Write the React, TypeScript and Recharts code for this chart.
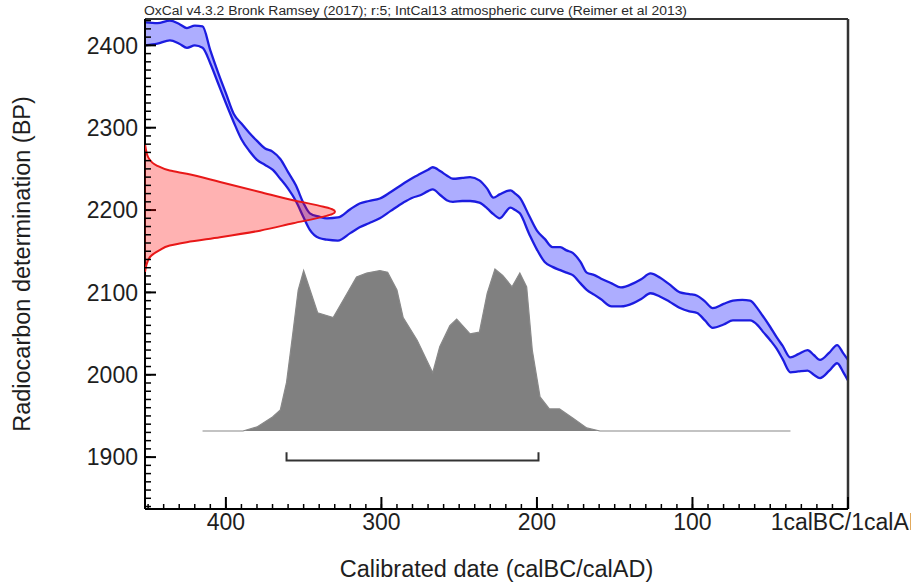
import React from 'react';
import { ComposedChart, Area, Line, XAxis, YAxis, ReferenceLine, Label } from 'recharts';

// ---------- data ----------
const TITLE = 'OxCal v4.3.2 Bronk Ramsey (2017); r:5; IntCal13 atmospheric curve (Reimer et al 2013)';

// IntCal13 calibration band (years BC, upper / lower radiocarbon age BP)
const curveYearsBC = [452, 444, 436, 430, 425, 420, 415, 410, 405, 400, 395, 390, 385, 380, 375, 370, 365, 360, 355, 350, 346, 340, 335, 328, 320, 314, 308, 301, 294, 286, 280, 275, 270, 267, 262, 258, 254, 248, 243, 237, 232, 228, 224, 217, 214, 211, 205, 200, 195, 190, 185, 181, 177, 172, 168, 163, 159, 152, 146, 138, 133, 127, 121, 115, 108, 102, 97, 92, 87, 80, 74, 68, 63, 58, 55, 50, 46, 42, 37, 32, 26, 22, 18, 12, 7, 3, 0];
const curveUpperBP = [2428, 2427, 2430, 2426, 2421, 2424, 2423, 2394, 2367, 2342, 2317, 2305, 2294, 2284, 2275, 2271, 2262, 2246, 2230, 2208, 2196, 2192, 2190, 2191, 2201, 2208, 2211, 2214, 2222, 2232, 2239, 2244, 2249, 2252, 2247, 2242, 2238, 2239, 2240, 2236, 2226, 2215, 2219, 2224, 2220, 2215, 2193, 2175, 2165, 2155, 2155, 2151, 2148, 2137, 2124, 2121, 2117, 2111, 2106, 2111, 2116, 2123, 2118, 2110, 2100, 2098, 2096, 2089, 2081, 2086, 2090, 2091, 2090, 2080, 2072, 2058, 2046, 2035, 2021, 2025, 2030, 2024, 2018, 2027, 2036, 2026, 2018];
const curveLowerBP = [2400, 2402, 2406, 2402, 2397, 2400, 2397, 2378, 2354, 2330, 2307, 2286, 2272, 2261, 2255, 2249, 2238, 2226, 2211, 2191, 2176, 2166, 2164, 2163, 2172, 2179, 2184, 2190, 2199, 2209, 2215, 2218, 2223, 2225, 2218, 2212, 2210, 2211, 2211, 2209, 2202, 2195, 2190, 2203, 2200, 2196, 2171, 2152, 2137, 2131, 2127, 2124, 2121, 2111, 2103, 2097, 2092, 2083, 2083, 2087, 2092, 2099, 2095, 2089, 2081, 2077, 2075, 2066, 2057, 2061, 2066, 2066, 2066, 2060, 2053, 2042, 2032, 2019, 2003, 2004, 2005, 2000, 1996, 2005, 2014, 2003, 1993];

// measured radiocarbon date (BP) with relative probability
const c14BP = [2280, 2276, 2264, 2254, 2248, 2244, 2234, 2222, 2212, 2204, 2201, 2198, 2195, 2192, 2184, 2175, 2167, 2161, 2157, 2151, 2143, 2131, 2125];
const c14Prob = [0, 0.003, 0.017, 0.062, 0.13, 0.22, 0.395, 0.605, 0.78, 0.94, 0.985, 1.0, 0.985, 0.94, 0.78, 0.605, 0.395, 0.22, 0.13, 0.075, 0.026, 0.005, 0];

// calibrated date distribution (years BC) with relative probability
const calYearsBC = [415, 389, 380, 370, 365, 361, 357, 353.5, 350, 341, 331, 322, 316, 309.5, 301, 296, 290, 286, 277, 267, 262.5, 256, 251.6, 243, 237, 232, 227, 222, 216, 211, 206.6, 203, 198, 192, 185.5, 177, 168, 159.5, 37];
const calProb = [0, 0, 0.025, 0.086, 0.13, 0.3, 0.6, 0.87, 0.99, 0.73, 0.7, 0.85, 0.95, 0.975, 0.99, 0.98, 0.87, 0.7, 0.56, 0.36, 0.52, 0.65, 0.69, 0.6, 0.61, 0.85, 1.0, 0.96, 0.89, 0.975, 0.89, 0.5, 0.21, 0.136, 0.136, 0.08, 0.019, 0, 0];

// 95.4% calibrated range (years BC) and the level of its bracket (BP)
const range95BC = [361, 199];
const bracketBP = [1906, 1896];

const xMajorYearsBC = [400, 300, 200, 100, 0];
const yMajorBP = [1900, 2000, 2100, 2200, 2300, 2400];

// ---------- layout ----------
const W = 911;
const H = 584;
const MARGIN = { top: 19, right: 63, left: 8, bottom: 0 };
const Y_AXIS_W = 137;
const X_AXIS_H = 75;
const X_DOMAIN: [number, number] = [-452, 0];
const Y_DOMAIN: [number, number] = [1837, 2432];
const CAL_DOMAIN: [number, number] = [-0.4815, 2.543];
const C14_DOMAIN: [number, number] = [0, 3.7];
const FONT = '"Liberation Sans", Arial, Helvetica, sans-serif';

const curveData = curveYearsBC.map((yr, i) => ({
  x: -yr,
  upper: curveUpperBP[i],
  lower: curveLowerBP[i],
  band: [curveLowerBP[i], curveUpperBP[i]],
}));
const c14Data = c14BP.map((bp, i) => ({ bp, p: c14Prob[i] }));
const calData = calYearsBC.map((yr, i) => ({ x: -yr, p: calProb[i] }));
const bracketData = [
  { x: -range95BC[0], y: bracketBP[0] },
  { x: -range95BC[0], y: bracketBP[1] },
  { x: -range95BC[1], y: bracketBP[1] },
  { x: -range95BC[1], y: bracketBP[0] },
];
const xMajorTicks = xMajorYearsBC.map((v) => -v);
const xMinorTicks: number[] = [];
for (let v = -450; v <= 0; v += 10) xMinorTicks.push(v);
const yMinorTicks: number[] = [];
for (let v = 1840; v <= 2430; v += 10) yMinorTicks.push(v);

const fmtX = (v: number) => (v === 0 ? '1calBC/1calAD' : String(-v));
const empty = () => '';

const tickStyle = { fill: '#1e1e1e', fontSize: 23, fontFamily: FONT };

export default function App() {
  return (
    <div style={{ position: 'absolute', left: 0, top: 0, width: W, height: H, background: '#fff' }}>
      <div style={{ position: 'absolute', left: 0, top: 0 }}>
        <ComposedChart width={W} height={H} data={curveData} margin={MARGIN}>
          <XAxis
            dataKey="x"
            type="number"
            domain={X_DOMAIN}
            ticks={xMajorTicks}
            interval={0}
            tickFormatter={fmtX}
            height={X_AXIS_H}
            tickSize={-12}
            tickMargin={17}
            allowDataOverflow
            axisLine={{ stroke: '#000', strokeWidth: 2 }}
            tickLine={{ stroke: '#000', strokeWidth: 2 }}
            tick={tickStyle}
          >
            <Label value="Calibrated date (calBC/calAD)" position="insideBottom" offset={7} fill="#1e1e1e" fontSize={23.5} fontFamily={FONT} />
          </XAxis>
          <YAxis
            type="number"
            domain={Y_DOMAIN}
            ticks={yMajorBP}
            interval={0}
            width={Y_AXIS_W}
            tickSize={-11}
            tickMargin={18}
            allowDataOverflow
            axisLine={{ stroke: '#000', strokeWidth: 2 }}
            tickLine={{ stroke: '#000', strokeWidth: 2 }}
            tick={tickStyle}
          >
            <Label
              value="Radiocarbon determination (BP)"
              angle={-90}
              position="insideLeft"
              offset={14}
              fill="#1e1e1e"
              fontSize={23.5}
              fontFamily={FONT}
              style={{ textAnchor: 'middle' }}
            />
          </YAxis>
          <YAxis yAxisId="cal" type="number" domain={CAL_DOMAIN} hide allowDataOverflow />
          <Area
            yAxisId="cal"
            data={calData}
            dataKey="p"
            type="linear"
            baseValue={0}
            fill="#808080"
            fillOpacity={1}
            stroke="#888"
            strokeWidth={1.2}
            isAnimationActive={false}
          />
          <Area dataKey="band" type="monotone" fill="#0000ff" fillOpacity={0.32} stroke="none" isAnimationActive={false} />
          <Line dataKey="upper" type="monotone" stroke="#1c1ce0" strokeWidth={2.3} dot={false} isAnimationActive={false} />
          <Line dataKey="lower" type="monotone" stroke="#1c1ce0" strokeWidth={2.3} dot={false} isAnimationActive={false} />
          <Line data={bracketData} dataKey="y" type="linear" stroke="#333" strokeWidth={2} dot={false} isAnimationActive={false} />
          <ReferenceLine y={Y_DOMAIN[1]} stroke="#333" strokeWidth={2} />
          <ReferenceLine x={X_DOMAIN[1]} stroke="#333" strokeWidth={2.5} />
        </ComposedChart>
      </div>
      <div style={{ position: 'absolute', left: 0, top: 0 }}>
        <ComposedChart layout="vertical" width={W} height={H} data={c14Data} margin={MARGIN}>
          <XAxis xAxisId="p" type="number" domain={C14_DOMAIN} hide allowDataOverflow />
          <XAxis
            xAxisId="minor"
            type="number"
            domain={X_DOMAIN}
            ticks={xMinorTicks}
            interval={0}
            height={X_AXIS_H}
            tickSize={-5}
            tickFormatter={empty}
            axisLine={false}
            tickLine={{ stroke: '#000', strokeWidth: 1.5 }}
            allowDataOverflow
          />
          <YAxis
            dataKey="bp"
            type="number"
            reversed
            domain={Y_DOMAIN}
            ticks={yMinorTicks}
            interval={0}
            width={Y_AXIS_W}
            tickSize={-6}
            tickFormatter={empty}
            axisLine={false}
            tickLine={{ stroke: '#000', strokeWidth: 1.5 }}
            allowDataOverflow
          />
          <Area
            xAxisId="p"
            dataKey="p"
            type="monotone"
            fill="#ff0000"
            fillOpacity={0.3}
            stroke="#e81818"
            strokeWidth={2}
            isAnimationActive={false}
          />
        </ComposedChart>
      </div>
      <svg width={W} height={20} style={{ position: 'absolute', left: 0, top: 0 }}>
        <text x={144} y={15} fontSize={12.5} fill="#2a2a2a" fontFamily={FONT} textLength={543} lengthAdjust="spacingAndGlyphs">
          {TITLE}
        </text>
      </svg>
    </div>
  );
}
